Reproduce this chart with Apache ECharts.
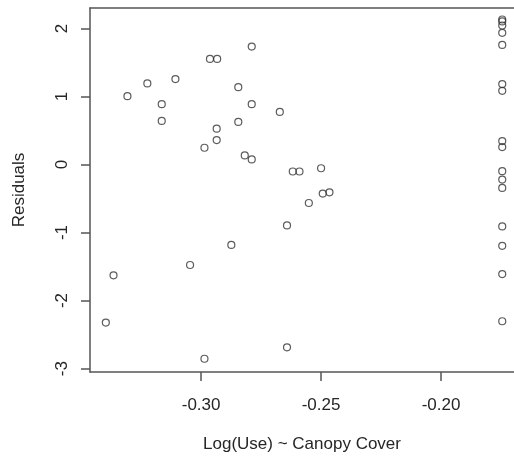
<!DOCTYPE html>
<html>
<head>
<meta charset="utf-8">
<script src="https://cdn.jsdelivr.net/npm/echarts@6/dist/echarts.min.js"></script>
<style>
  html, body { margin: 0; padding: 0; background: #fff; }
  #chart { width: 514px; height: 463px; }
</style>
</head>
<body>
<div id="chart"></div>
<script>
// residuals vs log canopy cover
const canopy = [
  -0.2789, -0.2963, -0.2933, -0.3224, -0.3107, -0.3307, -0.2845, -0.3164,
  -0.2789, -0.2672, -0.3164, -0.2845, -0.2935, -0.2935, -0.2986, -0.2818,
  -0.2789, -0.2618, -0.2590, -0.2500, -0.2493, -0.2465, -0.2551, -0.2642,
  -0.2642, -0.2874, -0.3046, -0.3365, -0.3397, -0.2986,
  -0.1745, -0.1745, -0.1745, -0.1745, -0.1745, -0.1745, -0.1745, -0.1745,
  -0.1745, -0.1745, -0.1745, -0.1745, -0.1745, -0.1745, -0.1745, -0.1745
]
const residuals = [
  1.733, 1.551, 1.551, 1.192, 1.256, 1.004, 1.137, 0.886,
  0.886, 0.773, 0.640, 0.625, 0.527, 0.359, 0.246, 0.133,
  0.074, -0.103, -0.103, -0.055, -0.428, -0.409, -0.566, -0.896,
  -2.688, -1.182, -1.477, -1.629, -2.323, -2.855,
  2.131, 2.102, 2.043, 1.935, 1.758, 1.182, 1.083, 0.344,
  0.256, -0.099, -0.222, -0.344, -0.911, -1.196, -1.610, -2.304
]
const xTicks = [-0.30, -0.25, -0.20]
const yTicks = [-3, -2, -1, 0, 1, 2]

const chart = echarts.init(document.getElementById('chart'))
const textColor = '#262626'
const lineColor = '#555'
const font = 'Liberation Sans, Arial, sans-serif'
const xMin = -0.3463
const xMax = -0.1696

chart.setOption({
  backgroundColor: '#fff',
  animation: false,
  grid: { left: 90, right: 0, top: 8, bottom: 91 },
  xAxis: [{
    type: 'value',
    min: xMin,
    max: xMax,
    name: 'Log(Use) ~ Canopy Cover',
    nameLocation: 'middle',
    nameGap: 64,
    nameTextStyle: { color: textColor, fontSize: 17, fontFamily: font },
    axisLine: { show: true, onZero: false, lineStyle: { color: lineColor, width: 1.5 } },
    splitLine: { show: false },
    axisTick: {
      show: true, length: 9, customValues: xTicks,
      lineStyle: { color: lineColor, width: 1.5 }
    },
    axisLabel: {
      customValues: xTicks,
      margin: 25,
      color: textColor, fontSize: 17, fontFamily: font,
      formatter: v => v.toFixed(2)
    }
  }, {
    // top side of the frame; the right side is cropped off in the original
    type: 'value',
    position: 'top',
    min: xMin,
    max: xMax,
    axisLine: { show: true, onZero: false, lineStyle: { color: lineColor, width: 1.5 } },
    axisTick: { show: false },
    axisLabel: { show: false },
    splitLine: { show: false }
  }],
  yAxis: {
    type: 'value',
    min: -3.05,
    max: 2.3,
    name: 'Residuals',
    nameLocation: 'middle',
    nameGap: 62,
    nameRotate: 90,
    nameTextStyle: { color: textColor, fontSize: 17, fontFamily: font },
    axisLine: { show: true, onZero: false, lineStyle: { color: lineColor, width: 1.5 } },
    splitLine: { show: false },
    axisTick: {
      show: true, length: 9, customValues: yTicks,
      lineStyle: { color: lineColor, width: 1.5 }
    },
    axisLabel: {
      customValues: yTicks,
      rotate: 90,
      margin: 19,
      color: textColor, fontSize: 17, fontFamily: font,
      formatter: v => String(v)
    }
  },
  series: [{
    type: 'scatter',
    data: canopy.map((x, i) => [x, residuals[i]]),
    symbol: 'circle',
    symbolSize: 7,
    itemStyle: { color: 'transparent', borderColor: '#333', borderWidth: 1.2 }
  }]
})
</script>
</body>
</html>
